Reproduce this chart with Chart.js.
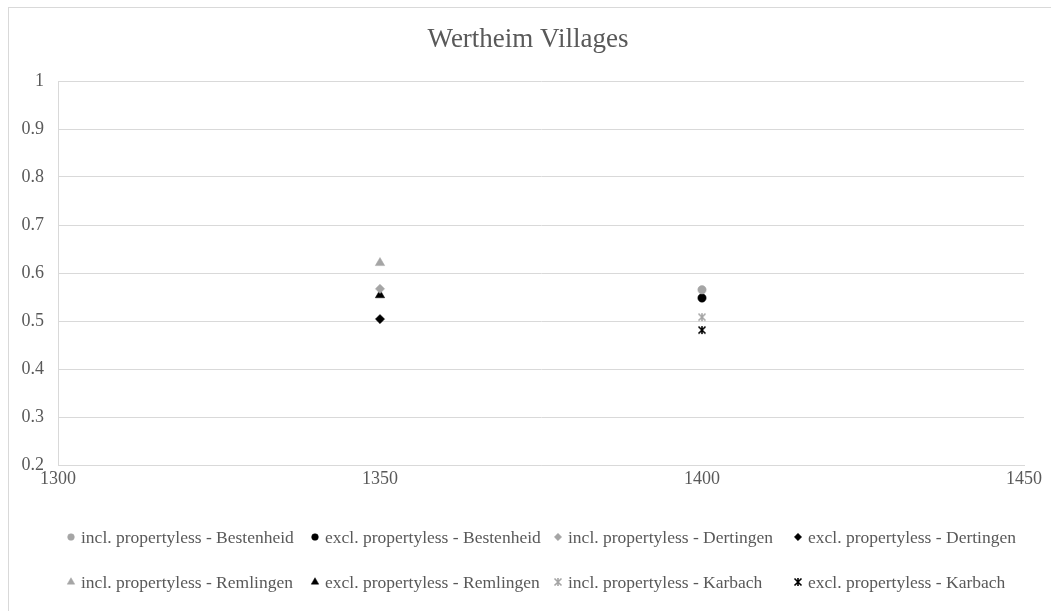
<!DOCTYPE html>
<html>
<head>
<meta charset="utf-8">
<script src="https://cdn.jsdelivr.net/npm/chart.js@4.4.1/dist/chart.umd.min.js"></script>
<style>
  html, body { margin: 0; padding: 0; background: #ffffff; overflow: hidden; }
  #frame { position: absolute; left: 8px; top: 7px; width: 1200px; height: 800px; border: 1px solid #d9d9d9; box-sizing: border-box; }
  #wrap { position: absolute; left: 0; top: 0; width: 1051px; height: 611px; }
</style>
</head>
<body>
<div id="frame"></div>
<div id="wrap"><canvas id="c" width="1051" height="611"></canvas></div>
<script>
// Census years on the x axis
const years = [1350, 1400];

// Share values per village, one entry per year (null = no observation)
const inclBestenheid = [null, 0.565];
const exclBestenheid = [null, 0.548];
const inclDertingen  = [0.567, null];
const exclDertingen  = [0.504, null];
const inclRemlingen  = [0.621, null];
const exclRemlingen  = [0.554, null];
const inclKarbach    = [null, 0.508];
const exclKarbach    = [null, 0.481];

const seriesLabels = [
  'incl. propertyless - Bestenheid', 'excl. propertyless - Bestenheid',
  'incl. propertyless - Dertingen',  'excl. propertyless - Dertingen',
  'incl. propertyless - Remlingen',  'excl. propertyless - Remlingen',
  'incl. propertyless - Karbach',    'excl. propertyless - Karbach'
];
const seriesValues = [
  inclBestenheid, exclBestenheid, inclDertingen, exclDertingen,
  inclRemlingen, exclRemlingen, inclKarbach, exclKarbach
];

const xTicks = [1300, 1350, 1400, 1450];
const yTicks = [0.2, 0.3, 0.4, 0.5, 0.6, 0.7, 0.8, 0.9, 1];

const GREY = '#a5a5a5';
const BLACK = '#000000';
const TEXT = '#595959';
const FONT = "'Liberation Serif', 'Times New Roman', serif";

// Asterisk marker: an X with a vertical stroke
function asterisk(color, size) {
  const cv = document.createElement('canvas');
  cv.width = size; cv.height = size;
  const g = cv.getContext('2d');
  g.strokeStyle = color; g.lineWidth = 1.6;
  const m = 1.5, s = size - 1.5;
  g.beginPath();
  g.moveTo(m, m); g.lineTo(s, s);
  g.moveTo(s, m); g.lineTo(m, s);
  g.moveTo(size / 2, m - 0.5); g.lineTo(size / 2, s + 0.5);
  g.stroke();
  return cv;
}

const markers = [
  { style: 'circle',   color: GREY,  r: 4.2 },
  { style: 'circle',   color: BLACK, r: 4.2 },
  { style: 'rectRot',  color: GREY,  r: 4.6 },
  { style: 'rectRot',  color: BLACK, r: 4.6 },
  { style: 'triangle', color: GREY,  r: 5.4 },
  { style: 'triangle', color: BLACK, r: 5.4 },
  { style: asterisk(GREY, 10),  color: GREY,  r: 5 },
  { style: asterisk(BLACK, 10), color: BLACK, r: 5 }
];

const datasets = seriesLabels.map((label, i) => ({
  label,
  data: years.map((yr, k) => ({ x: yr, y: seriesValues[i][k] })).filter(p => p.y !== null),
  pointStyle: markers[i].style,
  pointRadius: markers[i].r,
  pointHoverRadius: markers[i].r,
  backgroundColor: markers[i].color,
  borderColor: markers[i].color,
  pointBorderWidth: 0.5,
  showLine: false
}));

// Two-row legend laid out in fixed columns under the plot
const gridLegend = {
  id: 'gridLegend',
  afterDraw(chart) {
    const ctx = chart.ctx;
    const colX = [71, 315, 558, 798];
    const rowY = [537, 582];
    ctx.save();
    ctx.font = '17.5px ' + FONT;
    ctx.textBaseline = 'middle';
    ctx.textAlign = 'left';
    chart.data.datasets.forEach((ds, i) => {
      const x = colX[i % 4], y = rowY[Math.floor(i / 4)];
      ctx.fillStyle = ds.backgroundColor;
      ctx.strokeStyle = ds.borderColor;
      ctx.lineWidth = 0.5;
      Chart.helpers.drawPoint(ctx, { pointStyle: ds.pointStyle, radius: ds.pointRadius * 0.8, rotation: 0, borderWidth: 0.5 }, x, y);
      ctx.fillStyle = TEXT;
      ctx.fillText(ds.label, x + 10, y + 1);
    });
    ctx.restore();
  }
};

new Chart(document.getElementById('c'), {
  type: 'scatter',
  data: { datasets },
  plugins: [gridLegend],
  options: {
    responsive: false,
    animation: false,
    layout: { padding: { left: 5, right: 0, top: 0, bottom: 116 } },
    plugins: {
      legend: { display: false },
      tooltip: { enabled: false },
      title: {
        display: true,
        text: 'Wertheim Villages',
        color: TEXT,
        font: { family: FONT, size: 27, weight: 'normal', lineHeight: 1.2 },
        padding: { top: 24, bottom: 24.6 }
      }
    },
    scales: {
      x: {
        type: 'linear',
        min: xTicks[0], max: xTicks[xTicks.length - 1],
        afterBuildTicks: s => { s.ticks = xTicks.map(v => ({ value: v })); },
        afterFit: s => { s.height = 30; },
        grid: { display: false, drawTicks: false },
        border: { display: true, color: '#d9d9d9', width: 1 },
        ticks: { color: TEXT, font: { family: FONT, size: 18 }, padding: 3, maxRotation: 0, callback: v => String(v) }
      },
      y: {
        min: yTicks[0], max: yTicks[yTicks.length - 1],
        afterBuildTicks: s => { s.ticks = yTicks.map(v => ({ value: v })); },
        afterFit: s => { s.width = 53; },
        grid: { color: '#d9d9d9', drawTicks: false },
        border: { display: true, color: '#d9d9d9', width: 1 },
        ticks: { color: TEXT, font: { family: FONT, size: 18 }, padding: 14, callback: v => String(Math.round(v * 10) / 10) }
      },
      // empty right-hand gutter so the plot ends short of the canvas edge
      gutter: {
        position: 'right',
        axis: 'y',
        display: true,
        afterFit: s => { s.width = 27; },
        grid: { display: false, drawTicks: false },
        border: { display: false },
        ticks: { display: false }
      }
    }
  }
});
</script>
</body>
</html>
